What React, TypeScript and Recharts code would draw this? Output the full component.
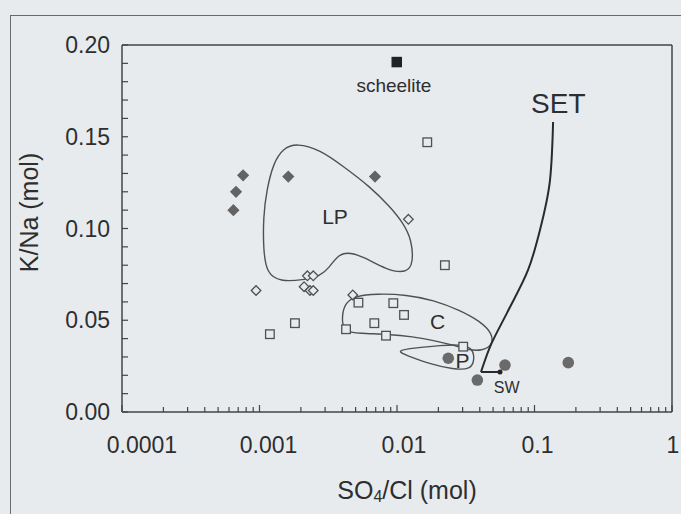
import React from 'react'
import { ScatterChart, Scatter, XAxis, YAxis, ReferenceLine } from 'recharts'

// values: [SO4/Cl, K/Na]
const filledDiamonds = [[0.00076, 0.129], [0.000675, 0.12], [0.000646, 0.11], [0.00162, 0.1283], [0.00692, 0.1283]]
const openDiamonds = [
  [0.000944, 0.0662], [0.00223, 0.0742], [0.00246, 0.0742], [0.00211, 0.0683],
  [0.00233, 0.0662], [0.00246, 0.0662], [0.0121, 0.105], [0.00477, 0.0638],
]
const openSquares = [
  [0.0166, 0.147], [0.0223, 0.08], [0.00119, 0.0424], [0.00181, 0.0484], [0.00524, 0.0596],
  [0.0094, 0.0593], [0.01125, 0.0529], [0.00684, 0.0484], [0.00426, 0.0451], [0.00832, 0.0416], [0.0303, 0.0356],
]
const scheelite = [[0.00996, 0.1907]]
const filledCircles = [[0.0236, 0.0293], [0.061, 0.0256], [0.0384, 0.0174], [0.176, 0.0269]]
const seawater = [[0.0561, 0.0218]]
const setFoot = [[0.0561, 0.0218], [0.0408, 0.0218]]
const setCurve = [
  [0.0408, 0.0218], [0.0474, 0.0354], [0.0631, 0.054], [0.0898, 0.0774],
  [0.1096, 0.0992], [0.1297, 0.1265], [0.1365, 0.158],
]
const lpOutline = [
  [0.001865, 0.1465], [0.002754, 0.1429], [0.004069, 0.1338], [0.006362, 0.1228], [0.008892, 0.1119],
  [0.01111, 0.1029], [0.01279, 0.0938], [0.01314, 0.0811], [0.01176, 0.0756], [0.008414, 0.0774],
  [0.005689, 0.0847], [0.004305, 0.0874], [0.003643, 0.0847], [0.003256, 0.0792], [0.002754, 0.0738],
  [0.002082, 0.072], [0.001409, 0.071], [0.001128, 0.0756], [0.001066, 0.0883], [0.001066, 0.1065],
  [0.001128, 0.121], [0.00126, 0.1356], [0.001489, 0.1438],
]
const cOutline = [
  [0.004069, 0.0438], [0.003961, 0.052], [0.004186, 0.0593], [0.004949, 0.0632], [0.00712, 0.0645],
  [0.01176, 0.0639], [0.01837, 0.061], [0.02872, 0.0555], [0.04015, 0.0495], [0.0495, 0.0429],
  [0.0495, 0.0362], [0.0413, 0.0334], [0.03396, 0.0336], [0.02567, 0.0365], [0.01837, 0.0389],
  [0.01314, 0.0411], [0.008414, 0.0424], [0.005382, 0.0428],
]
const pOutline = [
  [0.00955, 0.0335], [0.0139, 0.035], [0.02055, 0.0363], [0.03035, 0.0368], [0.0356, 0.0344],
  [0.0366, 0.0284], [0.0345, 0.0232], [0.02567, 0.0232], [0.01738, 0.0262], [0.01243, 0.0302],
]
const annotations = [
  { text: 'LP', x: 0.00354, y: 0.1063 },
  { text: 'C', x: 0.0197, y: 0.0493 },
  { text: 'P', x: 0.02995, y: 0.0278 },
  { text: 'SW', x: 0.0628, y: 0.0136 },
  { text: 'SET', x: 0.149, y: 0.1683 },
  { text: 'scheelite', x: 0.0095, y: 0.1778 },
]

const xTicks = [
  0.0001, 0.0002, 0.0003, 0.0004, 0.0005, 0.0006, 0.0007, 0.0008, 0.0009,
  0.001, 0.002, 0.003, 0.004, 0.005, 0.006, 0.007, 0.008, 0.009,
  0.01, 0.02, 0.03, 0.04, 0.05, 0.06, 0.07, 0.08, 0.09,
  0.1, 0.2, 0.3, 0.4, 0.5, 0.6, 0.7, 0.8, 0.9, 1,
]
const xMajor = [0.0001, 0.001, 0.01, 0.1, 1]
const xTickLabels = ['0.0001', '0.001', '0.01', '0.1', '1']
const yTicks = [
  0, 0.01, 0.02, 0.03, 0.04, 0.05, 0.06, 0.07, 0.08, 0.09, 0.1,
  0.11, 0.12, 0.13, 0.14, 0.15, 0.16, 0.17, 0.18, 0.19, 0.2,
]
const yMajor = [0, 0.05, 0.1, 0.15, 0.2]
const yTickLabels = ['0.00', '0.05', '0.10', '0.15', '0.20']

const W = 681
const H = 514
const margin = { top: 45, right: 9, bottom: 42, left: 0 }
const Y_AXIS_W = 122
const X_AXIS_H = 60
const plotLeft = margin.left + Y_AXIS_W
const plotBottom = H - margin.bottom - X_AXIS_H

const bg = '#e8ebee'
const ink = '#2e2e2e'
const frame = '#444'
const font = '"Liberation Sans", Arial, sans-serif'
const annotationSize: Record<string, number> = { LP: 21, C: 21, P: 21, SW: 16, SET: 28, scheelite: 19 }
// nudge of the x tick labels, as set in the original figure
const xLabelShift = [20, 9, 7, 3, 1]

const toPts = (arr: number[][]) => arr.map(([x, y]) => ({ x, y }))

function XTick({ x, payload }: any) {
  const i = xMajor.indexOf(payload.value)
  return (
    <g>
      <line x1={x} x2={x} y1={plotBottom} y2={plotBottom - (i >= 0 ? 7 : 5)} stroke={frame} strokeWidth={1.2} />
      {i >= 0 && (
        <text x={x + xLabelShift[i]} y={plotBottom + 33} textAnchor="middle" dominantBaseline="central"
          fontSize={23} fontFamily={font} fill={ink}>
          {xTickLabels[i]}
        </text>
      )}
    </g>
  )
}

function YTick({ y, payload }: any) {
  const i = yMajor.indexOf(payload.value)
  return (
    <g>
      <line x1={plotLeft} x2={plotLeft + 6} y1={y} y2={y} stroke={frame} strokeWidth={1.2} />
      {i >= 0 && (
        <text x={plotLeft - 12} y={y} textAnchor="end" dominantBaseline="central" fontSize={23} fontFamily={font} fill={ink}>
          {yTickLabels[i]}
        </text>
      )}
    </g>
  )
}

const xTitle = ({ viewBox }: any) => (
  <text x={viewBox.x + viewBox.width / 2 + 10} y={viewBox.y + 78} textAnchor="middle" dominantBaseline="central"
    fontSize={25} fontFamily={font} fill={ink}>
    SO<tspan fontSize={16} dy={6}>4</tspan><tspan dy={-6}>/Cl (mol)</tspan>
  </text>
)

const yTitle = ({ viewBox }: any) => {
  const cx = 29
  const cy = viewBox.y + viewBox.height / 2 - 16
  return (
    <text x={cx} y={cy} transform={`rotate(-90, ${cx}, ${cy})`} textAnchor="middle" dominantBaseline="central"
      fontSize={25} fontFamily={font} fill={ink}>
      K/Na (mol)
    </text>
  )
}

const diamond = (r: number, fill: string, stroke: string) => (p: any) => (
  <polygon points={`${p.cx},${p.cy - r} ${p.cx + r},${p.cy} ${p.cx},${p.cy + r} ${p.cx - r},${p.cy}`}
    fill={fill} stroke={stroke} strokeWidth={1.3} />
)
const square = (r: number, fill: string, stroke: string) => (p: any) => (
  <rect x={p.cx - r} y={p.cy - r} width={2 * r} height={2 * r} fill={fill} stroke={stroke} strokeWidth={1.3} />
)
const circle = (r: number, fill: string) => (p: any) => <circle cx={p.cx} cy={p.cy} r={r} fill={fill} />
const noShape = () => <g />
const labelShape = (p: any) => (
  <text x={p.cx} y={p.cy} textAnchor="middle" dominantBaseline="central" fontFamily={font}
    fontSize={annotationSize[p.payload.text]} fill={ink}>
    {p.payload.text}
  </text>
)

export default function App() {
  return (
    <div style={{ position: 'absolute', left: 0, top: 0, width: W, height: H, background: bg, overflow: 'hidden' }}>
      <div style={{ position: 'absolute', left: 10, top: 15, right: -5, bottom: -5, borderLeft: '1.5px solid #6a6a6a', borderTop: '1.5px solid #6a6a6a' }} />
      <ScatterChart width={W} height={H} margin={margin} style={{ position: 'absolute', left: 0, top: 0 }}>
        <XAxis
          type="number"
          dataKey="x"
          scale="log"
          domain={[0.0001, 1]}
          allowDataOverflow
          ticks={xTicks}
          interval={0}
          height={X_AXIS_H}
          tickLine={false}
          axisLine={{ stroke: frame, strokeWidth: 1.5 }}
          tick={<XTick />}
          label={xTitle}
        />
        <YAxis
          type="number"
          dataKey="y"
          domain={[0, 0.2]}
          allowDataOverflow
          ticks={yTicks}
          interval={0}
          width={Y_AXIS_W}
          tickLine={false}
          axisLine={{ stroke: frame, strokeWidth: 1.5 }}
          tick={<YTick />}
          label={yTitle}
        />
        <ReferenceLine y={0.2} stroke={frame} strokeWidth={1.5} />
        <ReferenceLine x={1} stroke={frame} strokeWidth={1.5} />

        <Scatter data={toPts(lpOutline)} fill="none" line={{ stroke: '#505050', strokeWidth: 1.4 }} lineType="joint"
          lineJointType="basisClosed" shape={noShape} isAnimationActive={false} />
        <Scatter data={toPts(cOutline)} fill="none" line={{ stroke: '#505050', strokeWidth: 1.4 }} lineType="joint"
          lineJointType="basisClosed" shape={noShape} isAnimationActive={false} />
        <Scatter data={toPts(pOutline)} fill="none" line={{ stroke: '#505050', strokeWidth: 1.4 }} lineType="joint"
          lineJointType="basisClosed" shape={noShape} isAnimationActive={false} />
        <Scatter data={toPts(setFoot)} fill="none" line={{ stroke: '#2a2a2a', strokeWidth: 2 }} lineType="joint"
          shape={noShape} isAnimationActive={false} />
        <Scatter data={toPts(setCurve)} fill="none" line={{ stroke: '#2a2a2a', strokeWidth: 2 }} lineType="joint"
          lineJointType="monotoneY" shape={noShape} isAnimationActive={false} />

        <Scatter data={toPts(filledDiamonds)} shape={diamond(5.2, '#636363', '#636363')} isAnimationActive={false} />
        <Scatter data={toPts(openDiamonds)} shape={diamond(4.8, bg, '#505050')} isAnimationActive={false} />
        <Scatter data={toPts(openSquares)} shape={square(4.3, bg, '#505050')} isAnimationActive={false} />
        <Scatter data={toPts(scheelite)} shape={square(4.6, '#222', '#222')} isAnimationActive={false} />
        <Scatter data={toPts(filledCircles)} shape={circle(5.8, '#6a6a6a')} isAnimationActive={false} />
        <Scatter data={toPts(seawater)} shape={circle(2.5, '#222')} isAnimationActive={false} />
        <Scatter data={annotations} shape={labelShape} isAnimationActive={false} />
      </ScatterChart>
    </div>
  )
}
